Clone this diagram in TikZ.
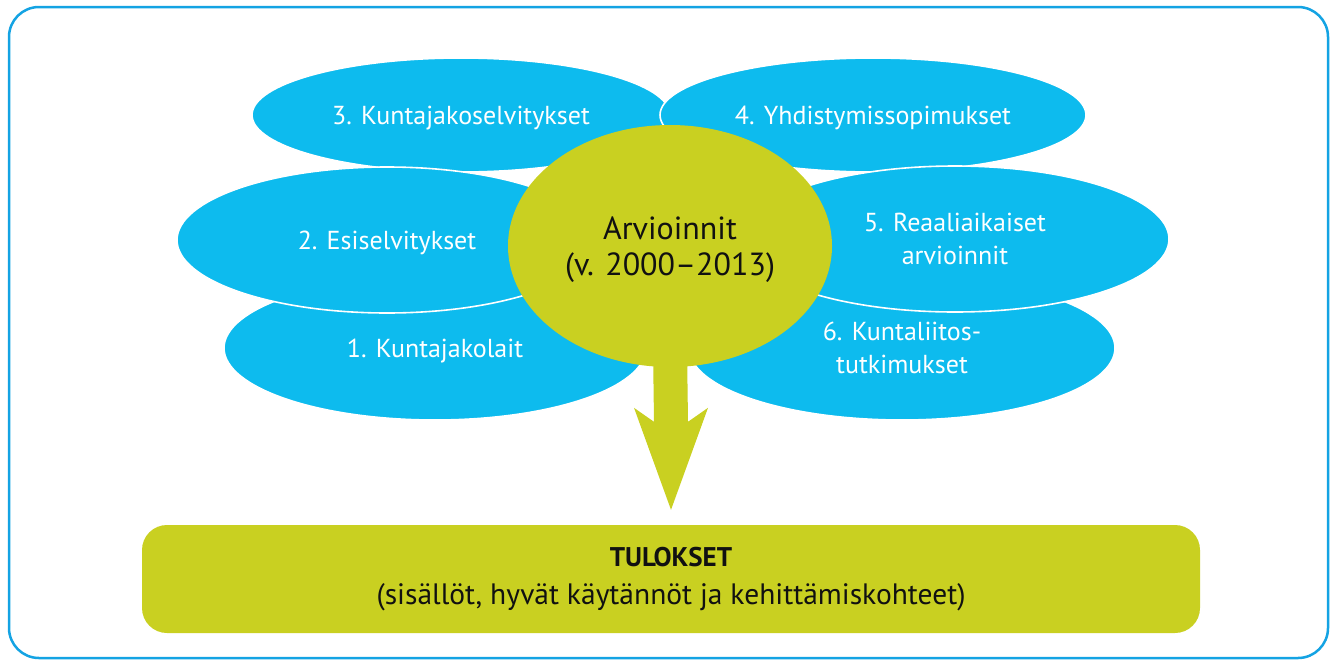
\documentclass[tikz,border=0pt]{standalone}
\usepackage{fontspec}
\setmainfont{PT Sans}
\usetikzlibrary{shapes.geometric,calc}
\definecolor{ink}{HTML}{111111}
\definecolor{sky}{HTML}{0DBBEE}
\definecolor{leaf}{HTML}{C9D021}
\definecolor{rim}{HTML}{14A3E3}

\begin{document}
\begin{tikzpicture}[x=1pt,y=-1pt,text=ink,line join=round,
  blob/.style={ellipse,fill=sky,draw=white,line width=1.6pt,text=white,
    inner sep=0pt,text depth=0pt,align=center,font=\fontsize{26}{33}\selectfont},
  hub/.style={ellipse,fill=leaf,inner sep=0pt,text depth=0pt,align=center,
    font=\fontsize{32}{36}\selectfont},
  resultbox/.style={rectangle,fill=leaf,rounded corners=25pt,align=center,
    font=\fontsize{29.5}{38}\selectfont}]
  % Frame.
  \useasboundingbox (0,0) rectangle (1330,659);
  \draw[rim,line width=2.5pt,rounded corners=30pt] (9,7) rectangle (1328,658);

  % Petals, back row first.
  \node[blob,minimum width=418,minimum height=114] (kjs) at (461,115)
    {3. Kuntajakoselvitykset};
  \node[blob,minimum width=426,minimum height=114] (ysop) at (873,115)
    {4. Yhdistymissopimukset};
  \node[blob,minimum width=422,minimum height=144] (kjl) at (435,348)
    {1. Kuntajakolait};
  \node[blob,minimum width=426,minimum height=144] (klt) at (902,348)
    {6. Kuntaliitos-\\tutkimukset};
  \node[blob,minimum width=420,minimum height=146] (esi) at (387,240)
    {2. Esiselvitykset};
  \node[blob,minimum width=428,minimum height=146] (reaal) at (955,239)
    {5. Reaaliaikaiset\\arvioinnit};

  % Centre and result.
  \node[hub,minimum width=324,minimum height=242] (arv) at (670,246)
    {Arvioinnit\\(v. 2000--2013)};
  \node[resultbox,minimum width=1058,minimum height=108] (tulos) at (671,579)
    {{\fontsize{27}{38}\selectfont\bfseries TULOKSET}\\(sisällöt, hyvät käytännöt ja kehittämiskohteet)};

  % Arrow down to the result.
  \coordinate (tip) at ($(tulos.north)+(0,-15)$);
  \fill[leaf] ($(arv.south)+(-17,-20)$) -- ($(tip)+(-17,-88)$)
    -- ($(tip)+(-37,-102)$) -- (tip) -- ($(tip)+(37,-102)$)
    -- ($(tip)+(17,-88)$) -- ($(arv.south)+(17,-20)$) -- cycle;
\end{tikzpicture}
\end{document}
